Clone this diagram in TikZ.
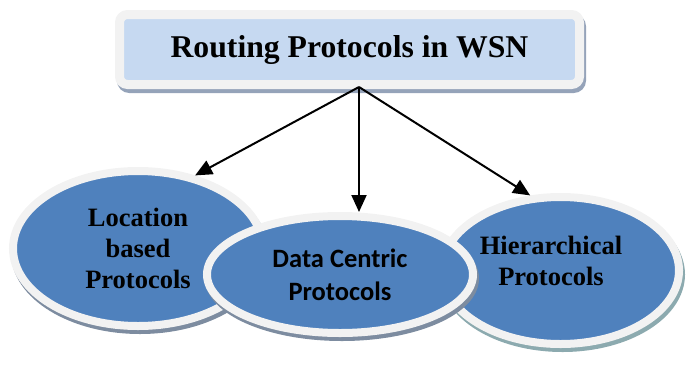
\documentclass[tikz,border=0pt]{standalone}
\usepackage{fontspec}
\setmainfont{Liberation Serif}
\newfontfamily\calibfont{Carlito}
\usepackage{tikz}
\usetikzlibrary{positioning}
\usetikzlibrary{shapes.geometric}
\usetikzlibrary{arrows.meta}
\usetikzlibrary{shadows}
\definecolor{blobblue}{RGB}{79,129,189}
\definecolor{rimgray}{RGB}{242,242,242}
\definecolor{headfill}{RGB}{198,217,241}
\definecolor{headshade}{RGB}{149,163,185}
\definecolor{blobshade}{RGB}{125,140,160}
\definecolor{tealshade}{RGB}{140,170,175}
\begin{document}
\begin{tikzpicture}[x=1pt,y=-1pt,
 headbox/.style={rectangle,rounded corners=8pt,draw=rimgray,line width=9pt,fill=headfill,minimum width=460pt,minimum height=70pt,inner sep=0pt,font=\fontsize{31.7}{38}\selectfont\bfseries,drop shadow={shadow xshift=2pt,shadow yshift=-4pt,opacity=1,fill=headshade,draw=headshade,line width=9pt}},
 blob/.style={ellipse,draw=rimgray,line width=8pt,fill=blobblue,inner sep=0pt,align=center,font=\fontsize{26.5}{31}\selectfont\bfseries,drop shadow={shadow xshift=2pt,shadow yshift=-4pt,opacity=1,fill=#1,draw=#1,line width=8pt}},
 blob/.default=blobshade,
 link/.style={line width=2pt,-{Triangle[length=17pt,width=15pt]}}]
 \useasboundingbox (0,0) rectangle (691,365);
 \node[blob,minimum width=250pt,minimum height=155pt] (loc) at (138,248.5) {Location\\based\\Protocols};
 \node[blob=tealshade,minimum width=237pt,minimum height=147pt] (hier) at (560.5,270.5) {};
 \node[font=\fontsize{26.5}{31}\selectfont\bfseries,align=center] (hiertext) at (551,261) {Hierarchical\\Protocols};
 \node[blob,minimum width=266pt,minimum height=117pt,font=\fontsize{26.5}{33}\selectfont\calibfont\bfseries] (data) at (340,274.5) {Data Centric\\Protocols};
 \node[headbox] (head) at (349.5,49.5) {Routing Protocols in WSN};
 \coordinate (apex) at (359,87);
 \draw[link] (apex) -- (loc.52);
 \draw[link] (apex) -- (apex |- data.north);
 \draw[link] (apex) -- (hier.112);
\end{tikzpicture}
\end{document}
